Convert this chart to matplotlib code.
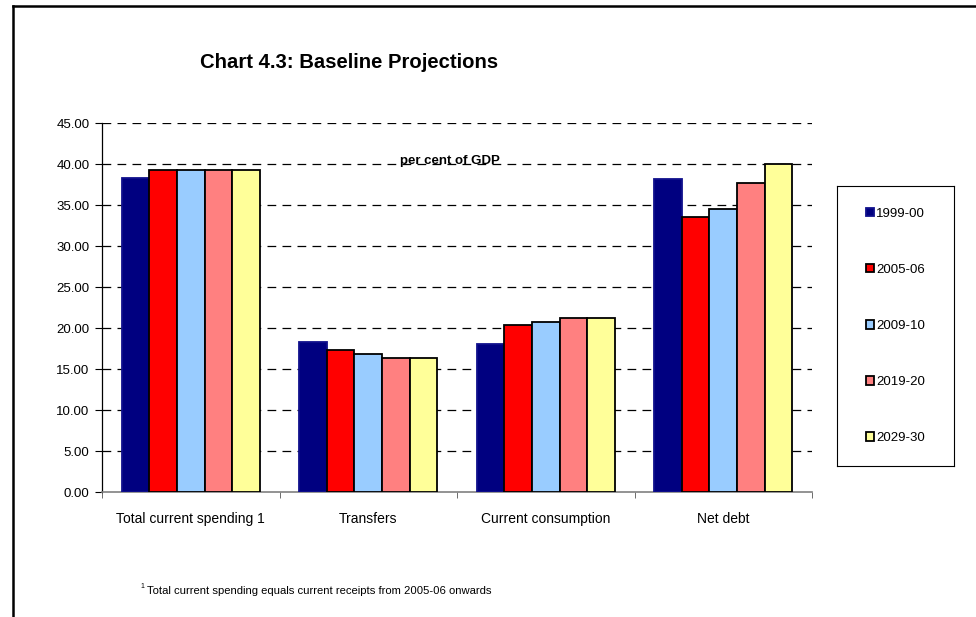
import numpy as np
import matplotlib
matplotlib.use("Agg")
import matplotlib.pyplot as plt
from matplotlib.lines import Line2D
from matplotlib.patches import Patch
from matplotlib.transforms import blended_transform_factory

plt.rcParams['font.family'] = ['Liberation Sans', 'DejaVu Sans']

categories = ["Total current spending 1", "Transfers", "Current consumption", "Net debt"]
series_labels = ["1999-00", "2005-06", "2009-10", "2019-20", "2029-30"]
values = {
    "1999-00": [38.3, 18.3, 18.1, 38.2],
    "2005-06": [39.3, 17.3, 20.4, 33.6],
    "2009-10": [39.3, 16.9, 20.8, 34.5],
    "2019-20": [39.3, 16.4, 21.2, 37.7],
    "2029-30": [39.3, 16.4, 21.2, 40.0],
}
colors = ["#000080", "#FF0000", "#99CCFF", "#FF8080", "#FFFF99"]
edges = ["#10108c", "black", "black", "black", "black"]
yticks = [0, 5, 10, 15, 20, 25, 30, 35, 40, 45]

W, H = 976, 617
fig = plt.figure(figsize=(W / 100, H / 100), dpi=100)
fig.patch.set_facecolor("white")

# outer frame (top and left edges)
fig.add_artist(Line2D([13 / W, 1.0], [1 - 6 / H, 1 - 6 / H], color="black", lw=1.8,
                      transform=fig.transFigure))
fig.add_artist(Line2D([13 / W, 13 / W], [0.0, 1 - 6 / H], color="black", lw=1.8,
                      transform=fig.transFigure))

ax_left, ax_right = 102 / W, 812 / W
ax_bottom = (H - 492.3) / H
ax_top = (H - 123.3) / H
ax = fig.add_axes([ax_left, ax_bottom, ax_right - ax_left, ax_top - ax_bottom])

n = len(series_labels)
x = np.arange(len(categories))
group_w = 0.78
bw = group_w / n
for i, lab in enumerate(series_labels):
    offs = (i - (n - 1) / 2) * bw
    ax.bar(x + offs, values[lab], width=bw, color=colors[i], edgecolor=edges[i],
           linewidth=1.3, zorder=3, label=lab)

ax.set_xlim(-0.5, len(categories) - 0.5)
ax.set_ylim(0, 45)
ax.set_yticks(yticks)
ax.set_yticklabels([f"{v:.2f}" for v in yticks], fontsize=9.5)
for v in yticks[1:]:
    ax.axhline(v, color="black", lw=0.9, ls=(0, (7, 5)), zorder=1)

ax.set_xticks(x)
ax.set_xticklabels(categories, fontsize=10)
ax.set_xticks(np.arange(-0.5, len(categories), 1.0), minor=True)
ax.tick_params(axis="x", which="major", length=0, pad=14)
ax.tick_params(axis="x", which="minor", length=4, color="#555555", direction="out")
ax.tick_params(axis="y", length=5, color="black", direction="out", pad=4)

for s in ["top", "right"]:
    ax.spines[s].set_visible(False)
ax.spines["left"].set_color("black")
ax.spines["left"].set_linewidth(0.9)
ax.spines["bottom"].set_color("#808080")
ax.spines["bottom"].set_linewidth(1.2)

ax.text(450 / W, 40.45, "per cent of GDP",
        transform=blended_transform_factory(fig.transFigure, ax.transData),
        ha="center", va="center", fontsize=9.5, fontweight="bold", zorder=4)

fig.text(200 / W, 1 - 62 / H, "Chart 4.3: Baseline Projections", fontsize=14.6,
         fontweight="bold", ha="left", va="center")

# legend box
lx0, lx1, ly0, ly1 = 837, 954, 186, 466
lax = fig.add_axes([lx0 / W, (H - ly1) / H, (lx1 - lx0) / W, (ly1 - ly0) / H])
lax.set_xticks([])
lax.set_yticks([])
for s in lax.spines.values():
    s.set_linewidth(0.8)
    s.set_color("black")
handles = [Patch(facecolor=colors[i], edgecolor=edges[i], linewidth=1.3) for i in range(n)]
lax.legend(handles, series_labels, loc="center", frameon=False, fontsize=9.5,
           labelspacing=3.35, handlelength=0.62, handleheight=0.62,
           handletextpad=0.12, borderpad=0)

fig.text(140 / W, 1 - 587 / H, "1", fontsize=5, ha="left", va="center")
fig.text(147 / W, 1 - 591 / H, "Total current spending equals current receipts from 2005-06 onwards",
         fontsize=8.1, ha="left", va="center")

fig.savefig("out.png", dpi=100, facecolor="white")
